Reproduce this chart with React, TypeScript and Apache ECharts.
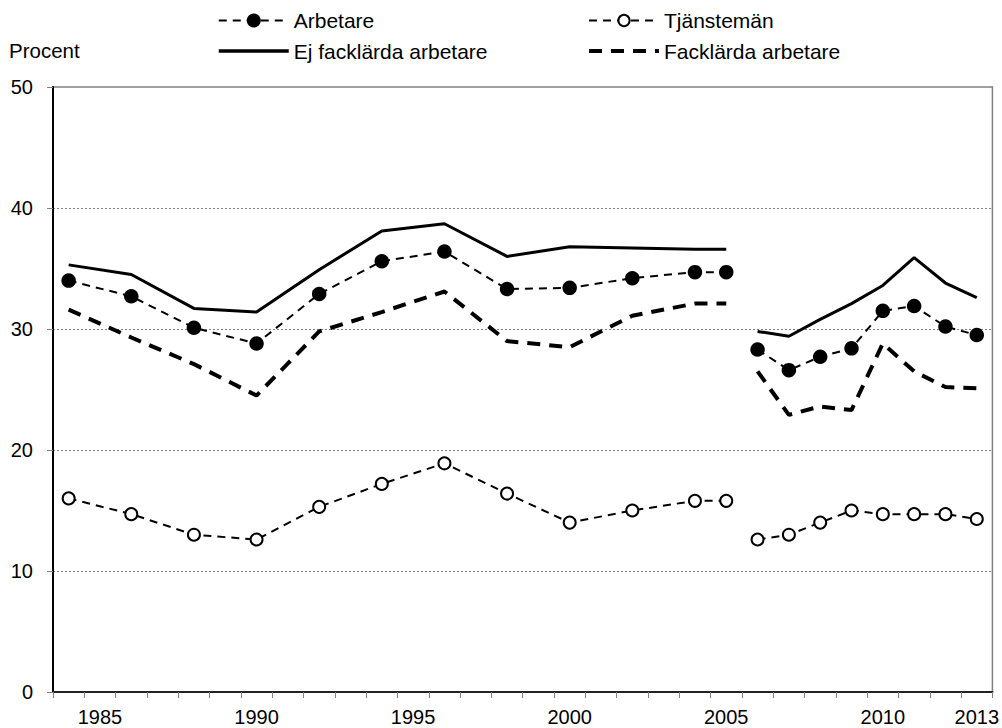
import React, { useEffect, useRef } from 'react';
import * as echarts from 'echarts';

const years = [
  '1984', '1985', '1986', '1987', '1988', '1989', '1990', '1991', '1992', '1993',
  '1994', '1995', '1996', '1997', '1998', '1999', '2000', '2001', '2002', '2003',
  '2004', '2005', '2006', '2007', '2008', '2009', '2010', '2011', '2012', '2013',
];
const xTickLabels = ['1985', '1990', '1995', '2000', '2005', '2010', '2013'];
const yTicks = { min: 0, max: 50, interval: 10 };

const period1 = ['1984', '1986', '1988', '1990', '1992', '1994', '1996', '1998', '2000', '2002', '2004', '2005'];
const period2 = ['2006', '2007', '2008', '2009', '2010', '2011', '2012', '2013'];

const arbetare1 = [34.0, 32.7, 30.1, 28.8, 32.9, 35.6, 36.4, 33.3, 33.4, 34.2, 34.7, 34.7];
const arbetare2 = [28.3, 26.6, 27.7, 28.4, 31.5, 31.9, 30.2, 29.5];
const tjansteman1 = [16.0, 14.7, 13.0, 12.6, 15.3, 17.2, 18.9, 16.4, 14.0, 15.0, 15.8, 15.8];
const tjansteman2 = [12.6, 13.0, 14.0, 15.0, 14.7, 14.7, 14.7, 14.3];
const ejFacklarda1 = [35.3, 34.5, 31.7, 31.4, 34.9, 38.1, 38.7, 36.0, 36.8, 36.7, 36.6, 36.6];
const ejFacklarda2 = [29.8, 29.4, 30.8, 32.1, 33.6, 35.9, 33.8, 32.6];
const facklarda1 = [31.6, 29.3, 27.1, 24.5, 29.8, 31.4, 33.1, 29.0, 28.5, 31.1, 32.1, 32.1];
const facklarda2 = [26.5, 22.9, 23.6, 23.3, 28.8, 26.5, 25.2, 25.1];

const NAME_ARB = 'Arbetare';
const NAME_TJ = 'Tjänstemän';
const NAME_EJ = 'Ej facklärda arbetare';
const NAME_FA = 'Facklärda arbetare';

const FONT = '"Liberation Sans", Arial, Helvetica, sans-serif';

function pairs(cats: string[], vals: number[]) {
  return cats.map((c, i) => [c, vals[i]]);
}

function arbSeries(data: any[]) {
  return {
    name: NAME_ARB,
    type: 'line',
    data,
    symbol: 'circle',
    symbolSize: 14.5,
    itemStyle: { color: '#000' },
    lineStyle: { color: '#000', width: 2, type: [8, 6] },
    z: 5,
  };
}
function tjSeries(data: any[]) {
  return {
    name: NAME_TJ,
    type: 'line',
    data,
    symbol: 'emptyCircle',
    symbolSize: 12,
    itemStyle: { color: '#000', borderWidth: 1.5 },
    lineStyle: { color: '#000', width: 2, type: [8, 6] },
    z: 5,
  };
}
function ejSeries(data: any[]) {
  return {
    name: NAME_EJ,
    type: 'line',
    data,
    symbol: 'none',
    itemStyle: { color: '#000' },
    lineStyle: { color: '#000', width: 3 },
    z: 3,
  };
}
function faSeries(data: any[]) {
  return {
    name: NAME_FA,
    type: 'line',
    data,
    symbol: 'none',
    itemStyle: { color: '#000' },
    lineStyle: { color: '#000', width: 4, type: [13, 9] },
    z: 3,
  };
}

const legendText = { fontFamily: FONT, fontSize: 21, color: '#000', lineHeight: 20 };

const option: any = {
  animation: false,
  backgroundColor: '#fff',
  textStyle: { fontFamily: FONT, color: '#000' },
  title: {
    text: 'Procent',
    left: 9,
    top: 40,
    padding: 0,
    textStyle: { fontFamily: FONT, fontSize: 20.5, fontWeight: 'normal', color: '#000' },
  },
  legend: [
    {
      orient: 'vertical',
      left: 217,
      top: 10,
      padding: 0,
      itemWidth: 70,
      itemHeight: 17.5,
      itemGap: 9.5,
      selectedMode: false,
      textStyle: legendText,
      data: [
        { name: NAME_ARB, lineStyle: { width: 2 } },
        { name: NAME_EJ, itemStyle: { opacity: 0 }, lineStyle: { width: 3.5 } },
      ],
    },
    {
      orient: 'vertical',
      left: 587,
      top: 10,
      padding: 0,
      itemWidth: 70,
      itemHeight: 14,
      itemGap: 9.5,
      selectedMode: false,
      textStyle: legendText,
      data: [
        { name: NAME_TJ, lineStyle: { width: 2 } },
        { name: NAME_FA, itemStyle: { opacity: 0 }, lineStyle: { width: 4 } },
      ],
    },
  ],
  grid: {
    left: 53,
    right: 9,
    top: 87,
    bottom: 36,
    show: true,
    borderColor: '#808080',
    borderWidth: 1.5,
    backgroundColor: 'transparent',
  },
  xAxis: {
    type: 'category',
    data: years,
    boundaryGap: true,
    axisLine: { show: true, lineStyle: { color: '#222', width: 2 } },
    axisTick: { show: true, interval: 0, alignWithLabel: false, length: 6, lineStyle: { color: '#808080', width: 1 } },
    axisLabel: {
      interval: (_i: number, v: string) => xTickLabels.includes(v),
      fontSize: 20,
      fontFamily: FONT,
      color: '#000',
      margin: 15,
    },
    splitLine: { show: false },
  },
  yAxis: {
    type: 'value',
    min: yTicks.min,
    max: yTicks.max,
    interval: yTicks.interval,
    axisLine: { show: true, lineStyle: { color: '#000', width: 2 } },
    axisTick: { show: true, length: 6, lineStyle: { color: '#808080', width: 1 } },
    axisLabel: { fontSize: 20, fontFamily: FONT, color: '#000', margin: 20 },
    splitLine: {
      show: true,
      showMinLine: false,
      showMaxLine: false,
      lineStyle: { color: '#808080', width: 1, type: [2, 2] },
    },
  },
  series: [
    ejSeries(pairs(period1, ejFacklarda1)),
    ejSeries(pairs(period2, ejFacklarda2)),
    faSeries(pairs(period1, facklarda1)),
    faSeries(pairs(period2, facklarda2)),
    arbSeries(pairs(period1, arbetare1)),
    arbSeries(pairs(period2, arbetare2)),
    tjSeries(pairs(period1, tjansteman1)),
    tjSeries(pairs(period2, tjansteman2)),
  ],
};

export default function App() {
  const ref = useRef<HTMLDivElement>(null);
  useEffect(() => {
    const chart = echarts.init(ref.current!, null, { renderer: 'svg' });
    chart.setOption(option);
    return () => chart.dispose();
  }, []);
  return (
    <div
      ref={ref}
      style={{ position: 'fixed', left: 0, top: 0, width: 1002, height: 728, background: '#fff' }}
    />
  );
}
